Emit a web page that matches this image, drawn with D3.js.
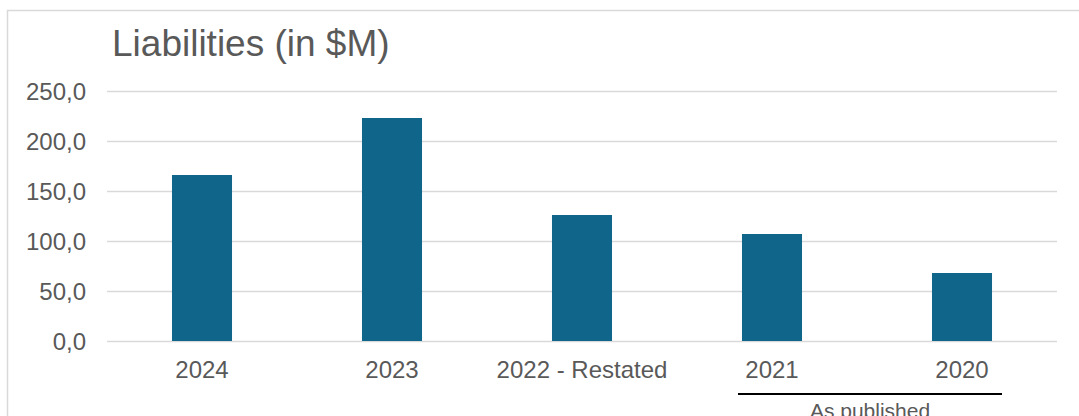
<!DOCTYPE html>
<html>
<head>
<meta charset="utf-8">
<script src="https://cdn.jsdelivr.net/npm/d3@7"></script>
<style>
  body { margin: 0; background: #fff; }
  text { font-family: "Liberation Sans", Arial, sans-serif; fill: #595959; }
</style>
</head>
<body>
<div id="chart"></div>
<script>
// chart data
var years = ["2024", "2023", "2022 - Restated", "2021", "2020"];
var liabilities = [166, 223, 126, 107, 68];
var yTicks = [0, 50, 100, 150, 200, 250];

var W = 1079, H = 416;
var margin = {top: 91, right: 22, bottom: 75, left: 107},
    width = W - margin.left - margin.right,
    height = H - margin.top - margin.bottom;

var svg = d3.select("#chart").append("svg")
    .attr("width", W)
    .attr("height", H);

// outer frame (only top and left edges are visible)
svg.append("rect")
    .attr("x", 7.5).attr("y", 10.5)
    .attr("width", W + 20).attr("height", H + 20)
    .attr("fill", "none")
    .attr("stroke", "#d9d9d9")
    .attr("stroke-width", 1.5);

svg.append("text")
    .attr("x", 112)
    .attr("y", 56)
    .style("font-size", "37px")
    .text("Liabilities (in $M)");

var g = svg.append("g")
    .attr("transform", "translate(" + margin.left + "," + margin.top + ")");

var x = d3.scaleBand()
    .domain(years)
    .range([0, width])
    .paddingInner(0.684)
    .paddingOuter(0.342);

var y = d3.scaleLinear()
    .domain([0, 250])
    .range([height, 0]);

var yAxis = d3.axisLeft(y)
    .tickValues(yTicks)
    .tickSize(-width)
    .tickPadding(21)
    .tickFormat(function(d) { return d3.format(".1f")(d).replace(".", ","); });

g.append("g")
    .attr("class", "y axis")
    .call(yAxis)
    .call(function(s) {
      s.select(".domain").remove();
      s.selectAll(".tick line").attr("stroke", "#d9d9d9").attr("stroke-width", 1.5);
      s.selectAll(".tick text")
        .style("font-size", "24px")
        .attr("fill", "#595959")
        .attr("dy", "0.35em");
    });

g.selectAll("rect.bar")
    .data(liabilities)
    .enter().append("rect")
    .attr("class", "bar")
    .attr("x", function(d, i) { return x(years[i]); })
    .attr("y", function(d) { return y(d); })
    .attr("width", x.bandwidth())
    .attr("height", function(d) { return y(0) - y(d); })
    .attr("fill", "#10668a");

var xAxis = d3.axisBottom(x)
    .tickSize(0)
    .tickPadding(20);

g.append("g")
    .attr("class", "x axis")
    .attr("transform", "translate(0," + height + ")")
    .call(xAxis)
    .call(function(s) {
      s.select(".domain").remove();
      s.selectAll(".tick text")
        .style("font-size", "24px")
        .attr("fill", "#595959");
    });

// "As published" group bracket under 2021 and 2020
var x0 = x("2021") + x.bandwidth() / 2 - 34,
    x1 = x("2020") + x.bandwidth() / 2 + 40;
g.append("line")
    .attr("x1", x0).attr("x2", x1)
    .attr("y1", height + 53).attr("y2", height + 53)
    .attr("stroke", "#000")
    .attr("stroke-width", 2);

g.append("text")
    .attr("x", (x0 + x1) / 2)
    .attr("y", height + 77)
    .attr("text-anchor", "middle")
    .style("font-size", "21px")
    .text("As published");
</script>
</body>
</html>
